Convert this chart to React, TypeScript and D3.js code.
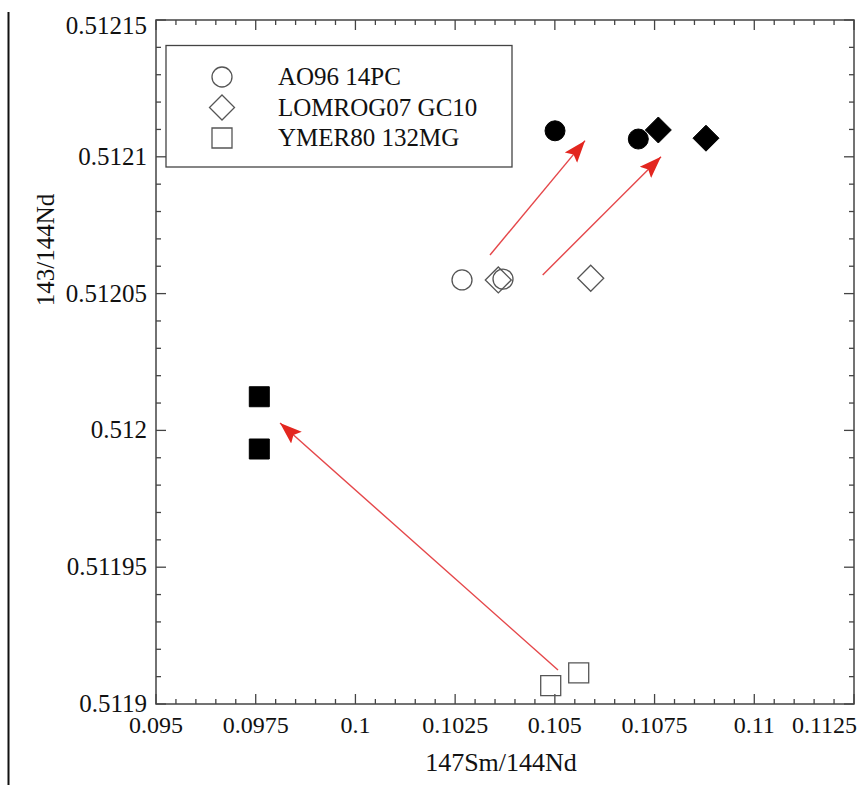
import { useEffect, useRef } from 'react';
import * as d3 from 'd3';

// series: [147Sm/144Nd, 143/144Nd]
const ao96Open = [[0.102672, 0.512055], [0.1037, 0.5120553]];
const ao96Filled = [[0.105004, 0.5121095], [0.107092, 0.5121065]];
const lomrogOpen = [[0.103582, 0.512055], [0.105899, 0.5120556]];
const lomrogFilled = [[0.107594, 0.5121098], [0.108789, 0.5121068]];
const ymerOpen = [[0.104896, 0.5119067], [0.105598, 0.5119114]];
const ymerFilled = [[0.09759, 0.5120123], [0.09759, 0.5119932]];

// arrows: [x0, y0, x1, y1]
const arrows = [
  [0.103374, 0.5120641, 0.105756, 0.5121059],
  [0.104695, 0.5120568, 0.107661, 0.5121],
  [0.105079, 0.5119124, 0.098109, 0.5120027],
];

const xTicks = [0.095, 0.0975, 0.1, 0.1025, 0.105, 0.1075, 0.11, 0.1125];
const yTicks = [0.5119, 0.51195, 0.512, 0.51205, 0.5121, 0.51215];
const legendLabels = ['AO96 14PC', 'LOMROG07 GC10', 'YMER80 132MG'];

const W = 861, H = 785;
const FONT = '"Liberation Serif", "Times New Roman", serif';

const App = () => {
  const ref = useRef<SVGSVGElement>(null);

  useEffect(() => {
    const svg = d3.select(ref.current);
    svg.selectAll('*').remove();

    const left = 156, right = 854, top = 20, bottom = 704;
    const x = d3.scaleLinear().domain([0.095, 0.1125]).range([left, right]);
    const y = d3.scaleLinear().domain([0.5119, 0.51215]).range([bottom, top]);

    // page rule at left
    svg.append('line')
      .attr('x1', 8.5).attr('x2', 8.5).attr('y1', 12).attr('y2', H)
      .attr('stroke', '#111').attr('stroke-width', 2);

    const axisColor = '#444';

    // minor ticks (5 per major interval)
    const xMinor = d3.range(0, 36).map(i => 0.095 + i * 0.0005);
    const yMinor = d3.range(0, 26).map(i => 0.5119 + i * 0.00001);

    const ticks = svg.append('g').attr('stroke', axisColor).attr('stroke-width', 1.3);
    xMinor.forEach((v, i) => {
      const len = i % 5 === 0 ? 10 : 5;
      ticks.append('line').attr('x1', x(v)).attr('x2', x(v)).attr('y1', bottom).attr('y2', bottom - len);
      ticks.append('line').attr('x1', x(v)).attr('x2', x(v)).attr('y1', top).attr('y2', top + len);
    });
    yMinor.forEach((v, i) => {
      const len = i % 5 === 0 ? 10 : 5;
      ticks.append('line').attr('x1', left).attr('x2', left + len).attr('y1', y(v)).attr('y2', y(v));
      ticks.append('line').attr('x1', right).attr('x2', right - len).attr('y1', y(v)).attr('y2', y(v));
    });

    svg.append('rect')
      .attr('x', left).attr('y', top)
      .attr('width', right - left).attr('height', bottom - top)
      .attr('fill', 'none').attr('stroke', axisColor).attr('stroke-width', 1.5);

    // tick labels
    svg.append('g').selectAll('text')
      .data(xTicks)
      .enter()
      .append('text')
      .attr('x', (d, i) => i === xTicks.length - 1 ? x(d) + 3 : x(d))
      .attr('y', 733)
      .attr('text-anchor', (d, i) => i === xTicks.length - 1 ? 'end' : 'middle')
      .attr('font-family', FONT).attr('font-size', 24).attr('fill', '#111')
      .text(d => String(d));

    svg.append('g').selectAll('text')
      .data(yTicks)
      .enter()
      .append('text')
      .attr('x', 147)
      .attr('y', (d, i) => i === yTicks.length - 1 ? y(d) + 14 : y(d) + 8)
      .attr('text-anchor', 'end')
      .attr('font-family', FONT).attr('font-size', 25).attr('fill', '#111')
      .text(d => String(d));

    // axis titles
    svg.append('text')
      .attr('x', 501).attr('y', 771)
      .attr('text-anchor', 'middle')
      .attr('font-family', FONT).attr('font-size', 26).attr('fill', '#111')
      .text('147Sm/144Nd');

    svg.append('text')
      .attr('transform', 'translate(54,250) rotate(-90)')
      .attr('text-anchor', 'middle')
      .attr('font-family', FONT).attr('font-size', 25).attr('fill', '#111')
      .text('143/144Nd');

    // legend
    svg.append('rect')
      .attr('x', 166).attr('y', 45.5).attr('width', 346).attr('height', 121.5)
      .attr('fill', 'white').attr('stroke', axisColor).attr('stroke-width', 1.3);

    const circ = d3.symbol().type(d3.symbolCircle).size(Math.PI * 10 * 10);
    const diam = (s: number) => `M0,${-s}L${s},0L0,${s}L${-s},0Z`;
    const sq = (s: number) => `M${-s},${-s}H${s}V${s}H${-s}Z`;
    const shapes = [circ(), diam(12.5), sq(10)];

    const openStroke = '#555';
    legendLabels.forEach((lab, i) => {
      const ly = 77 + i * 30.5;
      svg.append('path')
        .attr('d', shapes[i])
        .attr('transform', `translate(222,${ly})`)
        .attr('fill', 'none').attr('stroke', openStroke).attr('stroke-width', 1.3);
      svg.append('text')
        .attr('x', 278).attr('y', ly + 8)
        .attr('font-family', FONT).attr('font-size', 25).attr('fill', '#111')
        .text(lab);
    });

    // arrows
    const defs = svg.append('defs');
    defs.append('marker')
      .attr('id', 'head')
      .attr('markerUnits', 'userSpaceOnUse')
      .attr('markerWidth', 24).attr('markerHeight', 20)
      .attr('viewBox', '0 -10 24 20')
      .attr('refX', 22).attr('refY', 0)
      .attr('orient', 'auto')
      .append('path')
      .attr('d', 'M0,-8L22,0L0,8L4,0Z')
      .attr('fill', '#e3261f');

    svg.append('g').selectAll('line')
      .data(arrows)
      .enter()
      .append('line')
      .attr('x1', d => x(d[0])).attr('y1', d => y(d[1]))
      .attr('x2', d => x(d[2])).attr('y2', d => y(d[3]))
      .attr('stroke', '#e5474a').attr('stroke-width', 1.4)
      .attr('marker-end', 'url(#head)');

    // points
    const draw = (data: number[][], shape: string, filled: boolean) => {
      svg.append('g').selectAll('path')
        .data(data)
        .enter()
        .append('path')
        .attr('d', shape)
        .attr('transform', d => `translate(${x(d[0])},${y(d[1])})`)
        .attr('fill', filled ? '#000' : 'none')
        .attr('stroke', filled ? '#000' : openStroke)
        .attr('stroke-width', filled ? 1 : 1.3);
    };

    draw(lomrogOpen, diam(13), false);
    draw(ao96Open, circ(), false);
    draw(ymerOpen, sq(10), false);
    draw(ao96Filled, circ(), true);
    draw(lomrogFilled, diam(13), true);
    draw(ymerFilled, sq(10), true);
  }, []);

  return (
    <svg ref={ref} width={W} height={H}
      style={{ position: 'absolute', left: 0, top: 0, background: 'white', display: 'block' }} />
  );
};

export default App;
